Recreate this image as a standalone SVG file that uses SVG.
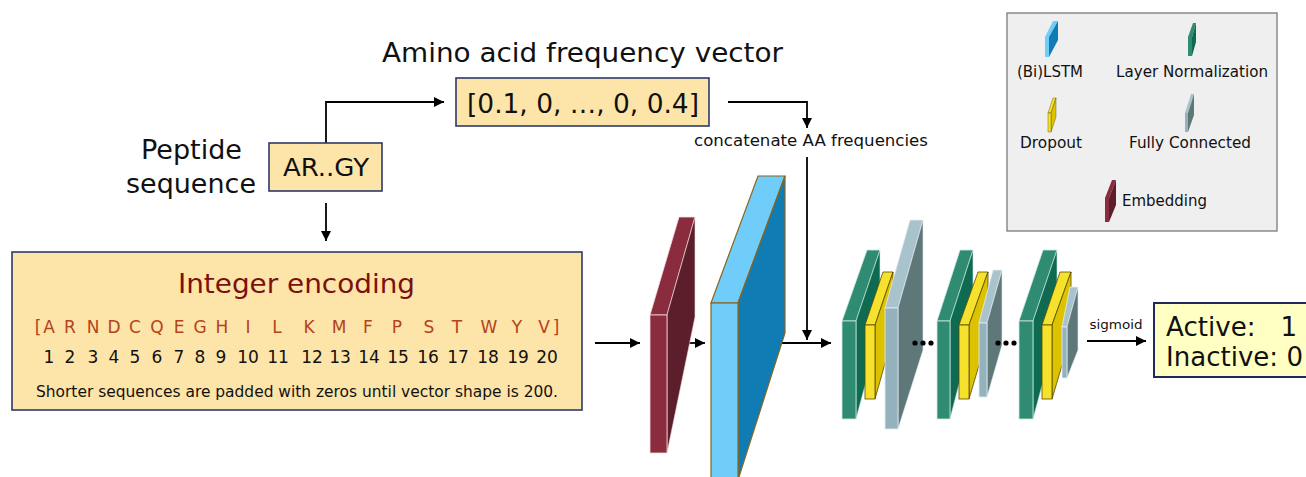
<svg xmlns="http://www.w3.org/2000/svg" width="1306" height="477" viewBox="0 0 1306 477">
<style>
  text { font-family: "DejaVu Sans", Verdana, sans-serif; fill: #111; }
  .box { fill: #fde4a8; stroke: #2b3a6b; stroke-width: 1.6; }
  .out { fill: #ffffc4; stroke: #1f2b5e; stroke-width: 2; }
  .conn { fill: none; stroke: #000; stroke-width: 1.8; }
  .embF { fill: #8b2c3e; stroke: #f2dde0; stroke-width: 0.8; }
  .embS { fill: #5b1e2a; stroke: #f2dde0; stroke-width: 0.6; }
  .lstF { fill: #70ccf8; stroke: #8a6520; stroke-width: 1.2; }
  .lstS { fill: #0f7cb3; stroke: #8a6520; stroke-width: 1.2; }
  .lnF { fill: #2f8c73; stroke: #cfe8e0; stroke-width: 0.8; }
  .lnS { fill: #0f6a52; stroke: #cfe8e0; stroke-width: 0.6; }
  .doF { fill: #f6e22c; stroke: #5a4a00; stroke-width: 0.8; }
  .doS { fill: #dcc200; stroke: #5a4a00; stroke-width: 0.8; }
  .fcF { fill: #93b2be; stroke: #e4eef2; stroke-width: 0.8; }
  .fcT { fill: #a9c3cc; stroke: #e4eef2; stroke-width: 0.8; }
  .fcS { fill: #5e7778; stroke: #e4eef2; stroke-width: 0.6; }
  .lbl { font-size: 15px; }
  .red { fill: #b5421c; font-size: 17px; }
  .num { font-size: 17px; }
</style>
<defs>
  <marker id="ah" viewBox="0 0 10 10" refX="10" refY="5" markerWidth="10" markerHeight="10" markerUnits="userSpaceOnUse" orient="auto">
    <path d="M0,0 L10,5 L0,10 z" fill="#000"/>
  </marker>
</defs>

<g id="connectors">
  <path class="conn" d="M326,143 V102 H444" marker-end="url(#ah)"/>
  <path class="conn" d="M326,203 V241" marker-end="url(#ah)"/>
  <path class="conn" d="M728,102 H807 V128" marker-end="url(#ah)"/>
  <path class="conn" d="M807,157 V340" marker-end="url(#ah)"/>
  <path class="conn" d="M595,343 H640" marker-end="url(#ah)"/>
  <path class="conn" d="M680,343 H705" marker-end="url(#ah)"/>
  <path class="conn" d="M770,343 H831" marker-end="url(#ah)"/>
  <path class="conn" d="M1087,341 H1146" marker-end="url(#ah)"/>
  <text x="1116" y="329" text-anchor="middle" font-size="13" textLength="53" lengthAdjust="spacingAndGlyphs">sigmoid</text>
  <text x="811" y="146" text-anchor="middle" font-size="15.5" textLength="234" lengthAdjust="spacingAndGlyphs">concatenate AA frequencies</text>
</g>

<g id="title">
  <text x="382" y="62" font-size="26" textLength="401" lengthAdjust="spacingAndGlyphs">Amino acid frequency vector</text>
</g>

<g id="peptide">
  <text x="141" y="159" font-size="26" textLength="101" lengthAdjust="spacingAndGlyphs">Peptide</text>
  <text x="126" y="193" font-size="26" textLength="130" lengthAdjust="spacingAndGlyphs">sequence</text>
  <rect class="box" x="269" y="143" width="113" height="48"/>
  <text x="283" y="176" font-size="24" textLength="86" lengthAdjust="spacingAndGlyphs">AR..GY</text>
</g>

<g id="freq-vector">
  <rect class="box" x="456" y="78" width="253" height="48"/>
  <text x="467" y="113" font-size="26" textLength="232" lengthAdjust="spacingAndGlyphs">[0.1, 0, …, 0, 0.4]</text>
</g>

<g id="integer-encoding">
  <rect class="box" x="12" y="252" width="570" height="158"/>
  <text x="178" y="293" font-size="27" fill="#7a1010" style="fill:#7a1010" textLength="237" lengthAdjust="spacingAndGlyphs">Integer encoding</text>
  <text class="red" text-anchor="middle" y="333"><tspan x="38">[</tspan><tspan x="49">A</tspan><tspan x="70">R</tspan><tspan x="93">N</tspan><tspan x="114">D</tspan><tspan x="135">C</tspan><tspan x="157">Q</tspan><tspan x="179">E</tspan><tspan x="200">G</tspan><tspan x="222">H</tspan><tspan x="248">I</tspan><tspan x="277">L</tspan><tspan x="309">K</tspan><tspan x="339">M</tspan><tspan x="368">F</tspan><tspan x="397">P</tspan><tspan x="429">S</tspan><tspan x="457">T</tspan><tspan x="489">W</tspan><tspan x="517">Y</tspan><tspan x="544">V</tspan><tspan x="556">]</tspan></text>
  <text class="num" text-anchor="middle" y="363"><tspan x="49">1</tspan><tspan x="70">2</tspan><tspan x="93">3</tspan><tspan x="114">4</tspan><tspan x="135">5</tspan><tspan x="157">6</tspan><tspan x="179">7</tspan><tspan x="200">8</tspan><tspan x="221">9</tspan><tspan x="248">10</tspan><tspan x="278">11</tspan><tspan x="312">12</tspan><tspan x="340">13</tspan><tspan x="369">14</tspan><tspan x="398">15</tspan><tspan x="428">16</tspan><tspan x="458">17</tspan><tspan x="488">18</tspan><tspan x="518">19</tspan><tspan x="547">20</tspan></text>
  <text x="36" y="397" font-size="16" textLength="522" lengthAdjust="spacingAndGlyphs">Shorter sequences are padded with zeros until vector shape is 200.</text>
</g>

<g id="embedding-layer">
  <polygon class="embF" points="650,315 679,217 695,217 667,315"/>
  <polygon class="embS" points="667,315 695,217 695,317 667,453"/>
  <rect class="embF" x="650" y="315" width="17" height="138"/>
</g>

<g id="bilstm-layer">
  <polygon class="lstF" points="711,303 758,176 785,176 738,303"/>
  <polygon class="lstS" points="738,303 785,176 785,333 738,480"/>
  <rect class="lstF" x="711" y="303" width="27" height="177"/>
</g>

<g id="block-1">
  <polygon class="lnF" points="842,321 867,250 880,250 856,321"/>
  <polygon class="lnS" points="856,321 880,250 880,330 856,419"/>
  <rect class="lnF" x="842" y="321" width="14" height="98"/>
  <polygon class="doF" points="865,325 883,272 893,272 875,325"/>
  <polygon class="doS" points="875,325 893,272 893,335 875,399"/>
  <rect class="doF" x="865" y="325" width="10" height="74"/>
  <polygon class="fcT" points="885,308 910,220 923,220 898,308"/>
  <polygon class="fcS" points="898,308 923,220 923,350 898,429"/>
  <rect class="fcF" x="885" y="308" width="13" height="121"/>
</g>

<g id="dots-1">
  <circle cx="915" cy="343" r="2.6" fill="#000"/>
  <circle cx="923" cy="343" r="2.6" fill="#000"/>
  <circle cx="931" cy="343" r="2.6" fill="#000"/>
</g>

<g id="block-2">
  <polygon class="lnF" points="937,321 960,250 973,250 950,321"/>
  <polygon class="lnS" points="950,321 973,250 973,330 950,419"/>
  <rect class="lnF" x="937" y="321" width="13" height="98"/>
  <polygon class="doF" points="959,325 978,272 988,272 969,325"/>
  <polygon class="doS" points="969,325 988,272 988,335 969,399"/>
  <rect class="doF" x="959" y="325" width="10" height="74"/>
  <polygon class="fcT" points="979,323 993,270 1002,270 987,323"/>
  <polygon class="fcS" points="987,323 1002,270 1002,345 987,397"/>
  <rect class="fcF" x="979" y="323" width="8" height="74"/>
</g>

<g id="dots-2">
  <circle cx="998" cy="343" r="2.6" fill="#000"/>
  <circle cx="1006" cy="343" r="2.6" fill="#000"/>
  <circle cx="1014" cy="343" r="2.6" fill="#000"/>
</g>

<g id="block-3">
  <polygon class="lnF" points="1019,321 1043,250 1057,250 1033,321"/>
  <polygon class="lnS" points="1033,321 1057,250 1057,330 1033,419"/>
  <rect class="lnF" x="1019" y="321" width="14" height="98"/>
  <polygon class="doF" points="1042,325 1060,272 1071,272 1052,325"/>
  <polygon class="doS" points="1052,325 1071,272 1071,335 1052,399"/>
  <rect class="doF" x="1042" y="325" width="10" height="74"/>
  <polygon class="fcT" points="1062,327 1070,287 1078,287 1067,327"/>
  <polygon class="fcS" points="1067,327 1078,287 1078,350 1067,378"/>
  <rect class="fcF" x="1062" y="327" width="5" height="51"/>
</g>

<g id="output">
  <rect class="out" x="1154" y="303" width="170" height="74"/>
  <text x="1166" y="336" font-size="26" textLength="131" lengthAdjust="spacingAndGlyphs" xml:space="preserve">Active:   1</text>
  <text x="1166" y="366" font-size="26" textLength="137" lengthAdjust="spacingAndGlyphs">Inactive: 0</text>
</g>

<g id="legend">
  <rect x="1007" y="13" width="270" height="218" fill="#efefef" stroke="#707070" stroke-width="1.2"/>
  <polygon class="lstF" points="1045,37 1053,21 1058,21 1049,37" style="stroke:none"/>
  <polygon class="lstS" points="1049,37 1058,21 1058,40 1049,57" style="stroke:none"/>
  <rect class="lstF" x="1045" y="37" width="4" height="20" style="stroke:none"/>
  <text class="lbl" x="1017" y="77" textLength="66" lengthAdjust="spacingAndGlyphs">(Bi)LSTM</text>

  <polygon class="lnF" points="1188,37 1193,23 1196,23 1192,37" style="stroke:none"/>
  <polygon class="lnS" points="1192,37 1196,23 1196,42 1192,56" style="stroke:none"/>
  <rect class="lnF" x="1188" y="37" width="4" height="19" style="stroke:none"/>
  <text class="lbl" x="1116" y="77" textLength="152" lengthAdjust="spacingAndGlyphs">Layer Normalization</text>

  <polygon class="doF" points="1048,113 1053,98 1056,98 1051,113" style="stroke-width:0.4"/>
  <polygon class="doS" points="1051,113 1056,98 1056,117 1051,132" style="stroke-width:0.4"/>
  <rect class="doF" x="1048" y="113" width="3" height="19" style="stroke-width:0.4"/>
  <text class="lbl" x="1020" y="148" textLength="62" lengthAdjust="spacingAndGlyphs">Dropout</text>

  <polygon class="fcT" points="1185,113 1191,94 1194,94 1188,113" style="stroke:none"/>
  <polygon class="fcS" points="1188,113 1194,94 1194,115 1188,132" style="stroke:none"/>
  <rect class="fcF" x="1185" y="113" width="3" height="19" style="stroke:none"/>
  <text class="lbl" x="1129" y="148" textLength="122" lengthAdjust="spacingAndGlyphs">Fully Connected</text>

  <polygon class="embF" points="1105,198 1112,180 1116,180 1109,198" style="stroke:none"/>
  <polygon class="embS" points="1109,198 1116,180 1116,205 1109,222" style="stroke:none"/>
  <rect class="embF" x="1105" y="198" width="4" height="24" style="stroke:none"/>
  <text class="lbl" x="1122" y="206" textLength="85" lengthAdjust="spacingAndGlyphs">Embedding</text>
</g>
</svg>
